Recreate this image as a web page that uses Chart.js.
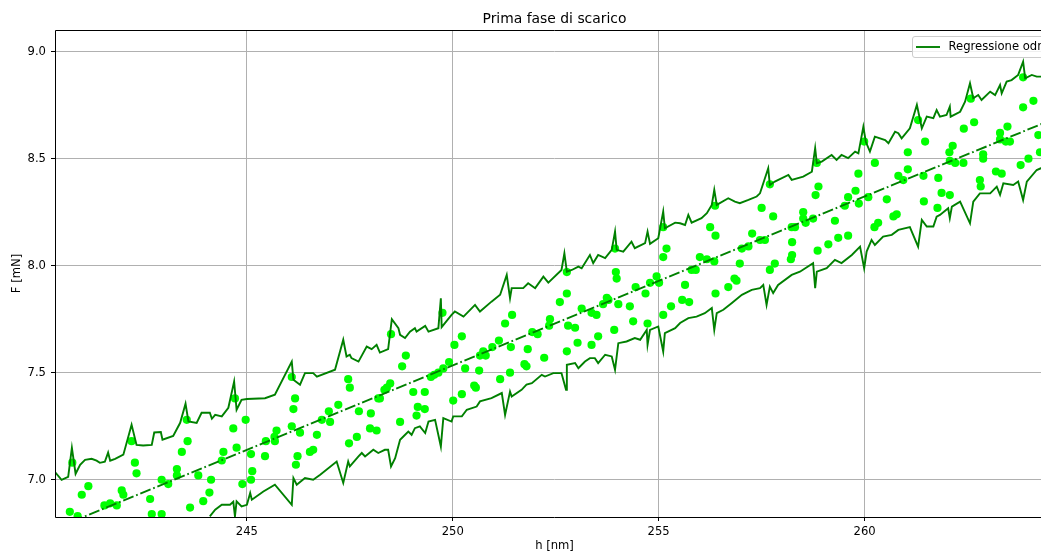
<!DOCTYPE html>
<html><head><meta charset="utf-8">
<script src="https://cdn.jsdelivr.net/npm/chart.js@4.4.1/dist/chart.umd.min.js"></script>
<style>
html,body{margin:0;padding:0;overflow:hidden;background:#fff;width:1041px;height:554px}
#wrap{position:relative;width:1070px;height:554px}
</style></head>
<body><div id="wrap"><canvas id="c" width="1070" height="554"></canvas></div>
<script>
const TITLE = 'Prima fase di scarico';
const X_LABEL = 'h [nm]';
const Y_LABEL = 'F [mN]';
const LEGEND_LABEL = 'Regressione odr';
const X_TICKS = [245, 250, 255, 260];
const Y_TICKS = [7.0, 7.5, 8.0, 8.5, 9.0];
const X_RANGE = [240.34, 264.6];
const Y_RANGE = [6.826, 9.101];

const upperBand = [[240.34,7.036],[240.50,7.000],[240.66,7.014],[240.75,7.149],[240.84,7.028],[240.95,7.070],[241.07,7.093],[241.23,7.098],[241.35,7.089],[241.43,7.079],[241.55,7.084],[241.63,7.127],[241.68,7.089],[241.80,7.098],[242.00,7.117],[242.20,7.257],[242.32,7.163],[242.48,7.160],[242.69,7.163],[242.75,7.221],[242.91,7.223],[242.95,7.187],[243.21,7.205],[243.38,7.266],[243.51,7.355],[243.58,7.272],[243.78,7.265],[243.90,7.313],[244.10,7.313],[244.15,7.285],[244.23,7.303],[244.39,7.296],[244.55,7.336],[244.69,7.459],[244.75,7.327],[244.87,7.373],[245.00,7.377],[245.44,7.381],[245.68,7.397],[246.09,7.552],[246.13,7.467],[246.29,7.444],[246.41,7.498],[246.61,7.498],[246.70,7.482],[247.14,7.514],[247.34,7.654],[247.42,7.576],[247.50,7.584],[247.54,7.568],[247.71,7.552],[247.91,7.622],[248.03,7.610],[248.15,7.630],[248.23,7.594],[248.43,7.610],[248.52,7.750],[248.68,7.708],[248.72,7.677],[248.84,7.662],[248.96,7.692],[249.08,7.708],[249.12,7.692],[249.33,7.719],[249.41,7.692],[249.65,7.708],[249.71,7.848],[249.73,7.713],[249.97,7.770],[250.05,7.786],[250.26,7.762],[250.54,7.817],[250.66,7.786],[250.94,7.832],[251.15,7.864],[251.31,7.957],[251.39,7.848],[251.43,7.895],[251.71,7.895],[251.83,7.918],[252.00,7.895],[252.20,7.949],[252.32,7.921],[252.64,7.980],[252.71,8.058],[252.77,7.972],[252.89,7.980],[253.05,7.996],[253.13,7.988],[253.33,8.050],[253.41,8.012],[253.53,8.050],[253.70,8.035],[253.86,8.074],[253.94,8.159],[253.98,8.074],[254.14,8.066],[254.34,8.112],[254.42,8.082],[254.67,8.105],[254.73,8.159],[254.79,8.102],[254.99,8.128],[255.11,8.253],[255.15,8.175],[255.40,8.201],[255.52,8.198],[255.64,8.190],[255.72,8.237],[255.80,8.201],[256.04,8.222],[256.17,8.245],[256.29,8.284],[256.35,8.354],[256.41,8.284],[256.69,8.315],[256.85,8.299],[256.97,8.292],[257.18,8.307],[257.38,8.323],[257.46,8.338],[257.66,8.455],[257.70,8.377],[257.82,8.393],[258.15,8.424],[258.23,8.401],[258.51,8.416],[258.72,8.439],[258.80,8.549],[258.84,8.479],[258.96,8.486],[259.20,8.517],[259.32,8.494],[259.44,8.517],[259.60,8.502],[259.77,8.533],[259.85,8.525],[259.97,8.649],[260.03,8.579],[260.13,8.533],[260.25,8.603],[260.50,8.587],[260.58,8.572],[260.74,8.626],[260.82,8.619],[260.90,8.595],[261.10,8.642],[261.27,8.751],[261.39,8.642],[261.51,8.696],[261.67,8.689],[261.75,8.727],[261.83,8.696],[261.99,8.704],[262.07,8.743],[262.09,8.696],[262.32,8.719],[262.44,8.766],[262.56,8.852],[262.64,8.782],[262.76,8.797],[262.84,8.774],[263.05,8.813],[263.17,8.797],[263.29,8.844],[263.33,8.805],[263.45,8.860],[263.57,8.867],[263.73,8.891],[263.85,8.953],[263.90,8.875],[264.06,8.891],[264.18,8.883],[264.28,8.883],[264.60,8.875]];

const lowerBand = [[244.10,6.829],[244.23,6.860],[244.39,6.883],[244.59,6.883],[244.67,6.897],[244.71,6.829],[244.75,6.899],[244.87,6.875],[245.00,6.883],[245.08,6.938],[245.12,6.907],[245.40,6.945],[245.68,6.977],[246.09,6.883],[246.13,7.008],[246.21,6.977],[246.41,7.008],[246.61,7.000],[246.78,7.023],[247.18,7.085],[247.34,6.985],[247.46,7.085],[247.50,7.062],[247.71,7.109],[247.79,7.125],[247.87,7.109],[248.07,7.140],[248.19,7.125],[248.35,7.140],[248.43,7.140],[248.50,7.062],[248.60,7.101],[248.72,7.187],[248.80,7.202],[248.92,7.225],[249.00,7.210],[249.08,7.241],[249.20,7.249],[249.33,7.218],[249.41,7.272],[249.57,7.280],[249.71,7.155],[249.77,7.288],[249.97,7.272],[250.01,7.296],[250.22,7.296],[250.34,7.327],[250.58,7.342],[250.66,7.366],[250.94,7.381],[251.19,7.405],[251.27,7.303],[251.39,7.412],[251.43,7.389],[251.67,7.420],[251.79,7.444],[251.92,7.451],[252.16,7.490],[252.24,7.482],[252.44,7.498],[252.64,7.498],[252.75,7.420],[252.77,7.537],[252.97,7.545],[253.05,7.521],[253.21,7.552],[253.33,7.568],[253.45,7.568],[253.53,7.545],[253.70,7.584],[253.86,7.576],[253.94,7.514],[254.02,7.638],[254.22,7.646],[254.42,7.662],[254.55,7.654],[254.71,7.700],[254.73,7.630],[254.79,7.700],[254.99,7.716],[255.11,7.599],[255.15,7.685],[255.40,7.708],[255.52,7.732],[255.72,7.755],[255.92,7.762],[256.12,7.778],[256.29,7.802],[256.35,7.700],[256.41,7.778],[256.57,7.794],[256.77,7.825],[257.02,7.864],[257.26,7.887],[257.46,7.895],[257.54,7.910],[257.62,7.817],[257.70,7.902],[257.78,7.872],[257.90,7.910],[258.23,7.957],[258.43,7.972],[258.75,8.012],[258.80,7.895],[258.84,7.972],[259.08,7.988],[259.28,8.027],[259.44,8.012],[259.69,8.050],[259.89,8.089],[259.99,7.988],[260.05,8.066],[260.17,8.120],[260.25,8.097],[260.45,8.136],[260.66,8.144],[260.82,8.167],[261.10,8.180],[261.30,8.089],[261.39,8.214],[261.51,8.183],[261.67,8.183],[261.75,8.229],[261.83,8.237],[262.03,8.268],[262.07,8.222],[262.12,8.276],[262.32,8.299],[262.56,8.198],[262.64,8.299],[262.80,8.338],[263.05,8.338],[263.21,8.369],[263.29,8.331],[263.37,8.385],[263.61,8.377],[263.73,8.393],[263.85,8.307],[263.94,8.393],[264.18,8.447],[264.28,8.455],[264.60,8.460]];

const regression = [[240.34,6.772],[264.60,8.686]];

const measured = [[240.76,7.08],[241.15,6.97],[240.99,6.93],[240.70,6.85],[240.89,6.83],[242.20,7.18],[242.28,7.08],[242.32,7.03],[241.96,6.95],[242.00,6.93],[241.68,6.89],[241.54,6.88],[241.84,6.88],[242.65,6.91],[242.69,6.84],[242.93,6.84],[242.93,7.00],[243.09,6.98],[243.30,7.05],[243.30,7.02],[243.42,7.13],[243.56,7.18],[243.54,7.28],[243.62,6.87],[243.82,7.02],[243.94,6.90],[244.09,6.94],[244.13,7.00],[244.39,7.09],[244.43,7.13],
[244.71,7.38],[244.97,7.28],[244.67,7.24],[244.75,7.15],[245.10,7.12],[245.13,7.04],[245.10,7.00],[244.89,6.98],[245.44,7.11],[245.46,7.18],[245.67,7.20],[245.72,7.23],[245.68,7.18],[246.09,7.48],[246.17,7.38],[246.13,7.33],[246.09,7.25],[246.29,7.22],[246.23,7.11],[246.19,7.07],[246.53,7.13],[246.61,7.14],[246.70,7.21],[246.82,7.28],[246.99,7.32],[247.02,7.27],[247.22,7.35],[247.46,7.47],[247.50,7.43],[247.48,7.17],[247.67,7.20],[247.72,7.32],[247.99,7.24],[248.15,7.23],[248.01,7.31],[248.19,7.38],[248.23,7.38],[248.34,7.42],[248.40,7.43],[248.48,7.45],[248.50,7.68],
[249.75,7.78],[250.22,7.67],[250.04,7.63],[248.86,7.58],[248.77,7.53],[249.47,7.48],[249.55,7.49],[249.65,7.50],[249.77,7.52],[249.91,7.55],[250.30,7.52],[250.64,7.51],[250.66,7.58],[250.74,7.60],[250.80,7.58],[250.96,7.62],[251.12,7.65],[251.27,7.73],[251.44,7.77],[251.41,7.62],[251.39,7.50],[251.15,7.47],[251.82,7.61],[251.74,7.54],[251.79,7.53],[251.93,7.69],[252.06,7.68],[252.22,7.57],[252.34,7.72],[252.36,7.75],[252.60,7.83],[252.77,7.97],[249.04,7.41],[249.32,7.41],[249.15,7.34],[249.12,7.30],[249.32,7.33],[248.72,7.27],[250.01,7.37],[250.22,7.40],[250.52,7.44],[250.56,7.43],
[253.94,8.08],[253.96,7.97],[253.98,7.94],[255.11,8.18],[255.19,8.08],[255.11,8.04],[254.95,7.95],[255.01,7.92],[254.79,7.92],[254.68,7.87],[254.44,7.90],[253.74,7.85],[253.78,7.84],[253.65,7.82],[254.02,7.82],[254.30,7.81],[254.38,7.74],[254.73,7.73],[253.92,7.70],[253.53,7.67],[253.37,7.63],[253.03,7.64],[252.77,7.60],[252.77,7.87],[253.13,7.80],[253.37,7.78],[253.49,7.77],[252.80,7.72],[252.97,7.71],[255.11,7.77],[255.30,7.81],[255.57,7.84],[255.74,7.83],[255.64,7.91],[255.80,7.98],[255.90,7.98],[256.00,8.04],[256.17,8.03],[256.35,8.02],[256.25,8.18],[256.38,8.14],[256.37,8.28],[256.38,7.87],[256.69,7.90],[256.84,7.94],
[257.70,8.38],[257.50,8.27],[257.78,8.23],[257.27,8.15],[257.46,8.12],[257.58,8.12],[257.18,8.09],[257.02,8.08],[256.97,8.01],[256.89,7.93],[257.82,8.01],[257.70,7.98],[258.23,8.18],[258.31,8.18],[258.24,8.11],[258.24,8.05],[258.21,8.03],[258.51,8.25],[258.51,8.22],[258.57,8.20],[258.75,8.22],[258.88,8.37],[258.81,8.33],[258.84,8.48],[259.28,8.21],[258.86,8.07],[259.12,8.10],[259.36,8.13],[259.60,8.14],[259.60,8.32],[259.52,8.28],[259.78,8.35],[259.85,8.43],[259.86,8.29],[260.09,8.32],[259.99,8.58],[260.25,8.48],[260.24,8.18],[260.33,8.20],[260.54,8.31],[260.70,8.23],[260.78,8.24],[260.82,8.42],[260.94,8.40],[261.05,8.45],[261.05,8.53],
[261.30,8.68],[261.47,8.58],[261.43,8.42],[261.79,8.41],[261.87,8.34],[262.07,8.33],[261.44,8.30],[261.77,8.27],[262.06,8.53],[262.14,8.56],[262.07,8.49],[262.20,8.48],[262.40,8.48],[262.41,8.64],[262.66,8.67],[262.58,8.78],[262.88,8.52],[262.88,8.50],[262.80,8.40],[262.82,8.37],[263.19,8.44],[263.33,8.43],[263.29,8.62],[263.29,8.59],[263.47,8.65],[263.43,8.58],[263.53,8.58],[263.79,8.47],[263.98,8.50],[263.85,8.74],[264.10,8.77],[263.85,8.88],[264.22,8.61],[264.26,8.53]];

const toXY = arr => arr.map(p => ({x: p[0], y: p[1]}));
const FONT = 'DejaVu Sans';
const GREEN = '#008000';

const decor = {
  id: 'decor',
  afterDatasetsDraw(chart) {
    const {ctx, chartArea: a} = chart;
    ctx.save();
    ctx.strokeStyle = '#000';
    ctx.lineWidth = 1;
    ctx.beginPath();
    ctx.rect(a.left + 0.5, a.top + 0.5, a.right - a.left - 1, a.bottom - a.top);
    ctx.stroke();
    ctx.fillStyle = '#000';
    ctx.font = '13.9px "' + FONT + '"';
    ctx.textAlign = 'center';
    ctx.textBaseline = 'alphabetic';
    ctx.fillText(TITLE, (a.left + a.right) / 2, a.top - 7);
    const bx = 912.5, by = 36.5, bw = 138, bh = 21;
    ctx.beginPath();
    const r = 2.5;
    ctx.moveTo(bx + r, by);
    ctx.arcTo(bx + bw, by, bx + bw, by + bh, r);
    ctx.arcTo(bx + bw, by + bh, bx, by + bh, r);
    ctx.arcTo(bx, by + bh, bx, by, r);
    ctx.arcTo(bx, by, bx + bw, by, r);
    ctx.closePath();
    ctx.fillStyle = 'rgba(255,255,255,0.8)';
    ctx.fill();
    ctx.strokeStyle = '#cccccc';
    ctx.stroke();
    ctx.strokeStyle = GREEN;
    ctx.lineWidth = 1.9;
    ctx.beginPath();
    ctx.moveTo(916, 47);
    ctx.lineTo(940, 47);
    ctx.stroke();
    ctx.fillStyle = '#000';
    ctx.font = '11.6px "' + FONT + '"';
    ctx.textAlign = 'left';
    ctx.textBaseline = 'middle';
    ctx.fillText(LEGEND_LABEL, 948.5, 47);
    ctx.restore();
  }
};

const lineStyle = {
  showLine: true, pointRadius: 0, borderColor: GREEN, borderWidth: 1.9,
  backgroundColor: GREEN, clip: 0, tension: 0
};

new Chart(document.getElementById('c'), {
  type: 'scatter',
  data: {
    datasets: [
      Object.assign({label: 'upper', data: toXY(upperBand)}, lineStyle),
      Object.assign({label: 'lower', data: toXY(lowerBand)}, lineStyle),
      Object.assign({label: 'regression', data: toXY(regression), borderDash: [11.1, 2.8, 1.74, 2.8], borderCapStyle: 'butt'}, lineStyle),
      {label: 'dati', data: toXY(measured), pointRadius: 4.1, pointBorderWidth: 0,
       backgroundColor: '#00ff00', borderColor: '#00ff00', showLine: false, clip: 0}
    ]
  },
  options: {
    responsive: false, animation: false, devicePixelRatio: 1,
    layout: {padding: {top: 30, right: 16, left: 0, bottom: 0}},
    plugins: {legend: {display: false}, title: {display: false}, tooltip: {enabled: false}},
    scales: {
      x: {
        type: 'linear', min: X_RANGE[0], max: X_RANGE[1],
        afterBuildTicks: s => { s.ticks = X_TICKS.map(v => ({value: v})); },
        afterFit: s => { s.height = 37; },
        grid: {color: '#b0b0b0', lineWidth: 1, drawTicks: true, tickLength: 4, tickColor: '#000', tickWidth: 1},
        border: {display: false},
        ticks: {color: '#000', font: {family: FONT, size: 11.6}, padding: 4, maxRotation: 0, autoSkip: false,
                callback: v => String(v)},
        title: {display: true, text: X_LABEL, color: '#000', font: {family: FONT, size: 11.6}, padding: {top: 0, bottom: 1}}
      },
      y: {
        type: 'linear', min: Y_RANGE[0], max: Y_RANGE[1],
        afterBuildTicks: s => { s.ticks = Y_TICKS.map(v => ({value: v})); },
        afterFit: s => { s.width = 55; },
        grid: {color: '#b0b0b0', lineWidth: 1, drawTicks: true, tickLength: 4, tickColor: '#000', tickWidth: 1},
        border: {display: false},
        ticks: {color: '#000', font: {family: FONT, size: 11.6}, padding: 5, autoSkip: false,
                callback: v => Number(v).toFixed(1)},
        title: {display: true, text: Y_LABEL, color: '#000', font: {family: FONT, size: 11.6}, padding: {top: 10, bottom: 0}}
      }
    }
  },
  plugins: [decor]
});
</script>
</body></html>
